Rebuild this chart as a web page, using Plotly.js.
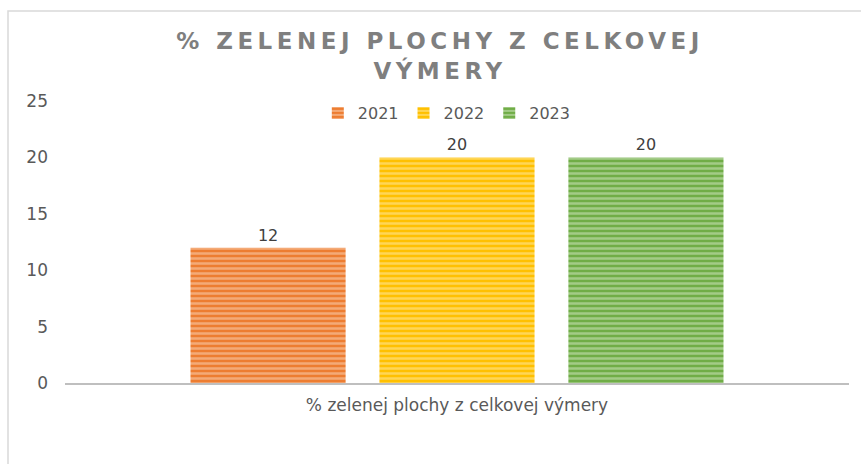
<!DOCTYPE html>
<html>
<head>
<meta charset="utf-8">
<script src="https://cdn.plot.ly/plotly-3.0.1.min.js"></script>
<style>
  html, body { margin: 0; padding: 0; background: #fff; }
  #chart { width: 861px; height: 464px; }
  .gtitle { letter-spacing: 4.5px; }
</style>
</head>
<body>
<div id="chart"></div>
<script>
const categories = ['% zelenej plochy z celkovej výmery'];
const years = ['2021', '2022', '2023'];
const values2021 = [12];
const values2022 = [20];
const values2023 = [20];
const yTicks = [0, 5, 10, 15, 20, 25];

const seriesValues = [values2021, values2022, values2023];
const baseColors = ['#ED7D31', '#FFC000', '#70AD47'];
const lightColors = ['#FBD7BE', '#FFEBAA', '#D5EAC8'];

const traces = years.map((yr, i) => ({
  type: 'bar',
  name: yr,
  x: categories,
  y: seriesValues[i],
  text: seriesValues[i].map(String),
  textposition: 'outside',
  cliponaxis: false,
  textfont: { family: 'DejaVu Sans, sans-serif', size: 16, color: '#404040' },
  marker: {
    color: baseColors[i],
    line: { width: 0 },
    pattern: { shape: '-', bgcolor: baseColors[i], fgcolor: lightColors[i], size: 5, solidity: 0.5, fillmode: 'overlay' }
  },
  hoverinfo: 'none'
}));

const layout = {
  width: 861,
  height: 464,
  margin: { l: 65, r: 12, t: 101, b: 81 },
  paper_bgcolor: '#ffffff',
  plot_bgcolor: '#ffffff',
  font: { family: 'DejaVu Sans, sans-serif', color: '#595959', size: 16 },
  title: {
    text: '<b>% ZELENEJ PLOCHY Z CELKOVEJ<br>VÝMERY</b>',
    font: { family: 'DejaVu Sans, sans-serif', size: 23, color: '#7F7F7F' },
    x: 0.511, xref: 'container', xanchor: 'center',
    y: 1 - 49 / 464, yref: 'container', yanchor: 'top'
  },
  barmode: 'group',
  bargap: 0.277,
  bargroupgap: 0.179,
  showlegend: true,
  legend: {
    orientation: 'h',
    x: 0.487, xanchor: 'center',
    y: (383 - 113) / 282, yanchor: 'middle',
    font: { size: 16, color: '#595959' },
    itemwidth: 30,
    traceorder: 'normal'
  },
  xaxis: {
    showgrid: false,
    showline: true,
    linecolor: '#BFBFBF',
    linewidth: 2,
    ticks: '',
    ticklabelstandoff: 6,
    tickfont: { size: 17, color: '#595959' },
    zeroline: false,
    fixedrange: true
  },
  yaxis: {
    range: [0, 25],
    tickvals: yTicks,
    showgrid: false,
    zeroline: false,
    showline: false,
    ticks: '',
    ticklabelstandoff: 16,
    tickfont: { size: 17, color: '#595959' },
    fixedrange: true
  },
  shapes: [{
    type: 'rect',
    xref: 'paper', yref: 'paper',
    x0: (8 - 65) / 784, x1: (875 - 65) / 784,
    y0: (383 - 480) / 282, y1: (383 - 11) / 282,
    line: { color: '#D9D9D9', width: 1.5 },
    fillcolor: 'rgba(0,0,0,0)',
    layer: 'below'
  }]
};

Plotly.newPlot('chart', traces, layout, { displayModeBar: false, staticPlot: true });
</script>
</body>
</html>
